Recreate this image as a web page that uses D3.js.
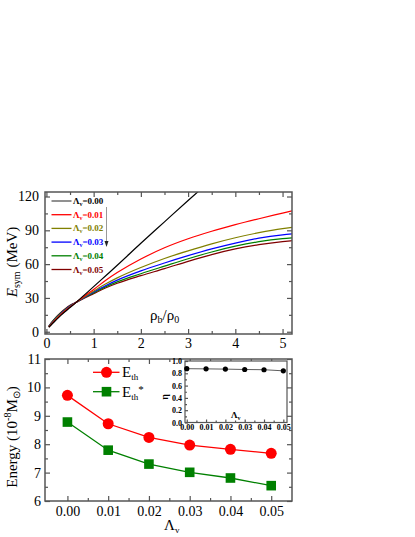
<!DOCTYPE html>
<html><head><meta charset="utf-8">
<script src="https://cdn.jsdelivr.net/npm/d3@7"></script>
<style>
html,body{margin:0;padding:0;background:#fff;}
svg{display:block;}
svg text{font-family:"Liberation Serif","Times New Roman",serif;}
</style></head>
<body><svg id="c" width="415" height="537"></svg>
<script>
// ---------- data: top panel (E_sym vs rho_b/rho_0) ----------
const rho = [0.05,0.1,0.2,0.3,0.4,0.5,0.63,0.8,1.0,1.25,1.5,2.0,2.5,3.0,3.5,4.0,4.5,5.0,5.2];
const esym000 = [4.0,6.0,10.2,14.3,18.0,21.5,26.1,32.5,40.0,49.5,59.0,78.5,97.5,116.5,135,null,null,null,null];
const esym001 = [4.2,6.5,11.0,15.0,18.6,22.0,26.1,31.5,37.5,45.5,52.5,64.5,74.5,82.5,89.2,95.0,100.3,105.3,107.3];
const esym002 = [4.4,6.9,11.6,15.6,19.2,22.4,26.1,30.8,36.0,42.3,47.8,57.0,65.0,71.8,78.0,83.4,87.9,91.5,92.6];
const esym003 = [4.6,7.2,12.0,16.1,19.6,22.8,26.1,30.5,35.2,40.8,45.8,54.0,61.0,67.5,73.5,78.7,83.0,86.0,86.9];
const esym004 = [4.7,7.5,12.4,16.5,20.0,23.1,26.1,30.2,34.5,39.8,44.3,51.5,58.2,64.8,70.8,75.9,79.9,82.6,83.3];
const esym005 = [4.8,7.8,12.8,17.0,20.4,23.4,26.1,29.8,33.8,38.8,43.0,49.8,56.0,62.5,68.5,73.5,77.3,80.0,80.8];
const lambdaLabels = ["0.00","0.01","0.02","0.03","0.04","0.05"];
const lineColors = ["#000000","#ff0000","#808000","#0000ff","#008000","#800000"];
const topXTicks = [0,1,2,3,4,5];
const topYTicks = [0,30,60,90,120];

// ---------- data: bottom panel ----------
const lambdaV = [0.00,0.01,0.02,0.03,0.04,0.05];
const eth = [9.72,8.72,8.24,7.97,7.82,7.68];
const ethStar = [8.78,7.79,7.30,7.01,6.81,6.54];
const botXTicks = [0.00,0.01,0.02,0.03,0.04,0.05];
const botYTicks = [6,7,8,9,10,11];
// inset
const eta = [0.875,0.872,0.868,0.862,0.858,0.84];
const insetYTicks = [0.0,0.2,0.4,0.6,0.8,1.0];

const svg = d3.select("#c");
const frameColor = "#555";
const SERIF = "'Liberation Serif','Times New Roman',serif";

function frame(g, x0, y0, x1, y1, w){
  g.append("rect").attr("x",x0).attr("y",y0).attr("width",x1-x0).attr("height",y1-y0)
   .attr("fill","none").attr("stroke",frameColor).attr("stroke-width",w||1.5);
}
function styleAxis(sel, fs, weight){
  sel.attr("font-family",null).attr("font-size",null);
  sel.select(".domain").remove();
  sel.selectAll(".tick line").attr("stroke",frameColor).attr("stroke-width",1.2);
  sel.selectAll(".tick text").attr("font-size",fs).attr("fill","#000")
     .style("font-family",SERIF).attr("font-weight",weight||"normal");
}
function axes(x, y, X0, Y0, X1, Y1, opts){
  const g = svg.append("g");
  const bx = g.append("g").attr("transform",`translate(0,${Y1})`)
    .call(d3.axisBottom(x).tickValues(opts.xt).tickFormat(opts.xf).tickSizeInner(-opts.maj).tickSizeOuter(0).tickPadding(opts.xpad));
  styleAxis(bx, opts.fs, opts.weight);
  const bxm = g.append("g").attr("transform",`translate(0,${Y1})`)
    .call(d3.axisBottom(x).tickValues(opts.xm).tickFormat("").tickSizeInner(-opts.min).tickSizeOuter(0));
  styleAxis(bxm, opts.fs);
  if(opts.mirror){
    const tx = g.append("g").attr("transform",`translate(0,${Y0})`)
      .call(d3.axisTop(x).tickValues(opts.xt).tickFormat("").tickSizeInner(-opts.maj).tickSizeOuter(0));
    styleAxis(tx, opts.fs);
    const txm = g.append("g").attr("transform",`translate(0,${Y0})`)
      .call(d3.axisTop(x).tickValues(opts.xm).tickFormat("").tickSizeInner(-opts.min).tickSizeOuter(0));
    styleAxis(txm, opts.fs);
  }
  const ly = g.append("g").attr("transform",`translate(${X0},0)`)
    .call(d3.axisLeft(y).tickValues(opts.yt).tickFormat(opts.yf).tickSizeInner(-opts.maj).tickSizeOuter(0).tickPadding(opts.ypad));
  styleAxis(ly, opts.fs, opts.weight);
  const lym = g.append("g").attr("transform",`translate(${X0},0)`)
    .call(d3.axisLeft(y).tickValues(opts.ym).tickFormat("").tickSizeInner(-opts.min).tickSizeOuter(0));
  styleAxis(lym, opts.fs);
  if(opts.mirror){
    const ry = g.append("g").attr("transform",`translate(${X1},0)`)
      .call(d3.axisRight(y).tickValues(opts.yt).tickFormat("").tickSizeInner(-opts.maj).tickSizeOuter(0));
    styleAxis(ry, opts.fs);
    const rym = g.append("g").attr("transform",`translate(${X1},0)`)
      .call(d3.axisRight(y).tickValues(opts.ym).tickFormat("").tickSizeInner(-opts.min).tickSizeOuter(0));
    styleAxis(rym, opts.fs);
  }
  frame(g, X0, Y0, X1, Y1, opts.fw);
}

// ================= TOP PANEL =================
const T = {x0:45, x1:292, y0:192, y1:334};
const xT = d3.scaleLinear().domain([-0.03,5.2]).range([T.x0,T.x1]);
const yT = d3.scaleLinear().domain([-2,124]).range([T.y1,T.y0]);

svg.append("clipPath").attr("id","clipT").append("rect")
  .attr("x",T.x0).attr("y",T.y0).attr("width",T.x1-T.x0).attr("height",T.y1-T.y0);

const series = [esym000,esym001,esym002,esym003,esym004,esym005];
const lineT = d3.line().defined(d=>d[1]!=null).x(d=>xT(d[0])).y(d=>yT(d[1])).curve(d3.curveMonotoneX);
const gT = svg.append("g").attr("clip-path","url(#clipT)");
series.slice().reverse().forEach((s,ri)=>{
  const i = series.length-1-ri;
  gT.append("path").attr("d",lineT(rho.map((r,k)=>[r,s[k]])))
    .attr("fill","none").attr("stroke",lineColors[i]).attr("stroke-width",1.2);
});

axes(xT,yT,T.x0,T.y0,T.x1,T.y1,{
  xt:topXTicks, xm:[0.5,1.5,2.5,3.5,4.5], yt:topYTicks, ym:[15,45,75,105],
  xf:d3.format("d"), yf:d3.format("d"), maj:5, min:3, fs:14, xpad:4, ypad:6, mirror:true, fw:1.5
});

// top legend
lambdaLabels.forEach((lab,i)=>{
  const yy = 201 + i*13.7;
  svg.append("line").attr("x1",51.5).attr("x2",71.5).attr("y1",yy).attr("y2",yy)
    .attr("stroke",i===0?"#555":lineColors[i]).attr("stroke-width",1.3);
  const t = svg.append("text").attr("x",73).attr("y",yy+3).attr("font-size",9)
    .attr("font-weight","bold").attr("fill",lineColors[i]);
  t.append("tspan").text("Λ");
  t.append("tspan").attr("font-size",6).attr("dy",2).text("v");
  t.append("tspan").attr("dy",-2).text("=" + lab);
});
// arrow
svg.append("line").attr("x1",106.5).attr("x2",106.5).attr("y1",207).attr("y2",244)
  .attr("stroke","#999").attr("stroke-width",1);
svg.append("path").attr("d","M104.5,241 L108.5,241 L106.5,247 Z").attr("fill","#222");

// x title inside top panel
{
  const t = svg.append("text").attr("x",150).attr("y",320).attr("font-size",15).attr("fill","#000");
  t.append("tspan").text("ρ");
  t.append("tspan").attr("font-size",10).attr("dy",3).text("b");
  t.append("tspan").attr("dy",-3).text("/ρ");
  t.append("tspan").attr("font-size",10).attr("dy",3).text("0");
}
// y title top
{
  const t = svg.append("text").attr("transform","translate(17,262) rotate(-90)")
    .attr("text-anchor","middle").attr("font-size",15).attr("fill","#000");
  t.append("tspan").attr("font-style","italic").text("E");
  t.append("tspan").attr("font-size",10).attr("dy",3).text("sym");
  t.append("tspan").attr("dy",-3).text(" (MeV)");
}

// ================= BOTTOM PANEL =================
const B = {x0:45, x1:292, y0:359, y1:501};
const xB = d3.scaleLinear().domain([-0.0055,0.0551]).range([B.x0,B.x1]);
const yB = d3.scaleLinear().domain([6,11]).range([B.y1,B.y0]);

axes(xB,yB,B.x0,B.y0,B.x1,B.y1,{
  xt:botXTicks, xm:[0.005,0.015,0.025,0.035,0.045], yt:botYTicks, ym:[6.5,7.5,8.5,9.5,10.5],
  xf:d3.format(".2f"), yf:d3.format("d"), maj:5, min:3, fs:14, xpad:5, ypad:4, mirror:true, fw:1.5
});

const lineB = d3.line().x(d=>xB(d[0])).y(d=>yB(d[1]));
svg.append("path").attr("d",lineB(lambdaV.map((v,i)=>[v,eth[i]])))
  .attr("fill","none").attr("stroke","#ff0000").attr("stroke-width",1.3);
svg.append("path").attr("d",lineB(lambdaV.map((v,i)=>[v,ethStar[i]])))
  .attr("fill","none").attr("stroke","#008000").attr("stroke-width",1.3);
svg.selectAll("circle.eth").data(lambdaV).enter().append("circle")
  .attr("cx",d=>xB(d)).attr("cy",(d,i)=>yB(eth[i])).attr("r",5.5).attr("fill","#ff0000");
svg.selectAll("rect.ets").data(lambdaV).enter().append("rect")
  .attr("x",d=>xB(d)-4.8).attr("y",(d,i)=>yB(ethStar[i])-4.8).attr("width",9.6).attr("height",9.6).attr("fill","#008000");

// bottom legend
svg.append("line").attr("x1",93).attr("x2",119.5).attr("y1",372.3).attr("y2",372.3).attr("stroke","#ff0000").attr("stroke-width",1.3);
svg.append("circle").attr("cx",106.5).attr("cy",372.3).attr("r",5.5).attr("fill","#ff0000");
svg.append("line").attr("x1",93).attr("x2",119.5).attr("y1",391.7).attr("y2",391.7).attr("stroke","#008000").attr("stroke-width",1.3);
svg.append("rect").attr("x",106.5-4.8).attr("y",391.7-4.8).attr("width",9.6).attr("height",9.6).attr("fill","#008000");
{
  const t = svg.append("text").attr("x",122).attr("y",377).attr("font-size",15).attr("fill","#000");
  t.append("tspan").text("E");
  t.append("tspan").attr("font-size",9).attr("dy",3).text("th");
  const t2 = svg.append("text").attr("x",122).attr("y",396.5).attr("font-size",15).attr("fill","#000");
  t2.append("tspan").text("E");
  t2.append("tspan").attr("font-size",9).attr("dy",3).text("th");
  t2.append("tspan").attr("font-size",11).attr("dy",-7).text("*");
}
// y title bottom
{
  const t = svg.append("text").attr("transform","translate(17,437) rotate(-90)")
    .attr("text-anchor","middle").attr("font-size",15).attr("fill","#000");
  t.append("tspan").text("Energy (10");
  t.append("tspan").attr("font-size",10).attr("dy",-6).text("-8");
  t.append("tspan").attr("dy",6).text("M");
  t.append("tspan").attr("font-size",10).attr("dy",3).text("⊙");
  t.append("tspan").attr("dy",-3).text(")");
}
// x title bottom
{
  const t = svg.append("text").attr("x",164).attr("y",530).attr("font-size",15).attr("fill","#000");
  t.append("tspan").text("Λ");
  t.append("tspan").attr("font-size",9).attr("dy",3).text("v");
}

// ================= INSET =================
const I = {x0:185, x1:287, y0:361, y1:422.5};
const xI = d3.scaleLinear().domain([-0.0009,0.0519]).range([I.x0,I.x1]);
const yI = d3.scaleLinear().domain([0,1.0]).range([I.y1,I.y0]);
svg.append("rect").attr("x",I.x0).attr("y",I.y0).attr("width",I.x1-I.x0).attr("height",I.y1-I.y0).attr("fill","#fff");
axes(xI,yI,I.x0,I.y0,I.x1,I.y1,{
  xt:botXTicks, xm:[0.005,0.015,0.025,0.035,0.045], yt:insetYTicks, ym:[0.1,0.3,0.5,0.7,0.9],
  xf:d3.format(".2f"), yf:d3.format(".1f"), maj:3, min:2, fs:8, weight:"bold", xpad:2, ypad:3, mirror:false, fw:1.2
});
svg.append("path").attr("d",d3.line().x(d=>xI(d[0])).y(d=>yI(d[1]))(lambdaV.map((v,i)=>[v,eta[i]])))
  .attr("fill","none").attr("stroke","#333").attr("stroke-width",0.8);
svg.selectAll("circle.eta").data(lambdaV).enter().append("circle")
  .attr("cx",d=>xI(d)).attr("cy",(d,i)=>yI(eta[i])).attr("r",2.6).attr("fill","#000");
svg.append("text").attr("transform","translate(168,397) rotate(-90)").attr("text-anchor","middle")
  .attr("font-size",10).attr("font-weight","bold").text("η");
{
  const t = svg.append("text").attr("x",231).attr("y",418).attr("font-size",9).attr("font-weight","bold");
  t.append("tspan").text("Λ");
  t.append("tspan").attr("font-size",6).attr("dy",2).text("v");
}
</script></body></html>
